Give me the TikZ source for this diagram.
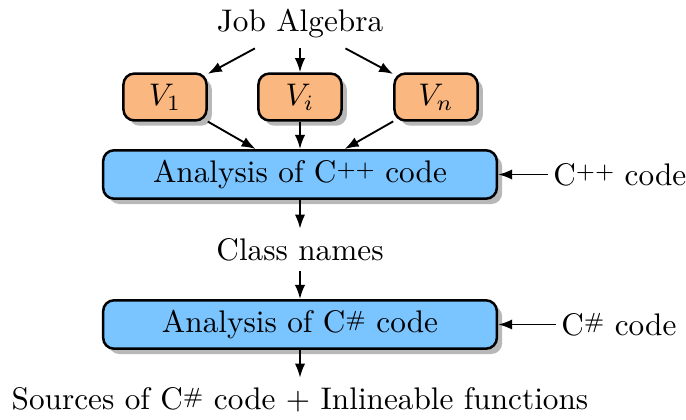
\documentclass[tikz,border=0pt]{standalone}
\usetikzlibrary{shadows,arrows.meta}
\definecolor{vorange}{RGB}{250,184,128}
\definecolor{boxblue}{RGB}{122,196,255}
\newcommand{\cpplang}{C\raisebox{2pt}{\scriptsize ++}}
\newcommand{\cslang}{C\raisebox{2pt}{\scriptsize\#}}
\begin{document}
\begin{tikzpicture}[x=0.32pt,y=-0.32pt,
  shad/.style={drop shadow={shadow xshift=1.7pt,shadow yshift=-1.7pt,fill=black!28,opacity=1}},
  vbox/.style={draw,thick,rounded corners=3.5pt,fill=vorange,minimum width=26.6pt,minimum height=15pt,inner sep=0pt,shad},
  abox/.style={draw,thick,rounded corners=3.5pt,fill=boxblue,minimum width=126pt,minimum height=15.5pt,inner sep=0pt,shad},
  lbl/.style={inner sep=3pt},
  arr/.style={-{Latex[length=4.5pt,width=3.3pt]},semithick}]
\useasboundingbox (0,0) rectangle (686,419);
\node[lbl] (ja) at (300,24) {Job Algebra};
\node[vbox] (v1) at (165,97) {$V_1$};
\node[vbox] (vi) at (300,97) {$V_i$};
\node[vbox] (vn) at (436,97) {$V_n$};
\node[abox] (cpp) at (300,174.5) {Analysis of \cpplang{} code};
\node[lbl,inner sep=1.5pt,anchor=west] (cppcode) at (548,174.5) {\cpplang{} code};
\node[lbl] (cn) at (300,250) {Class names};
\node[abox] (cs) at (300,324.5) {Analysis of \cslang{} code};
\node[lbl,inner sep=1.5pt,anchor=west] (cscode) at (556,324.5) {\cslang{} code};
\node[lbl] (src) at (300,400) {Sources of \cslang{} code $+$ Inlineable functions};
\draw[arr] (ja) -- (v1);
\draw[arr] (ja) -- (vi);
\draw[arr] (ja) -- (vn);
\draw[arr] (v1) -- (cpp);
\draw[arr] (vi) -- (cpp);
\draw[arr] (vn) -- (cpp);
\draw[arr] (cppcode.west) -- (cpp.east);
\draw[arr] (cpp) -- (cn);
\draw[arr] (cn) -- (cs);
\draw[arr] (cscode.west) -- (cs.east);
\draw[arr] (cs) -- (src);
\end{tikzpicture}
\end{document}
